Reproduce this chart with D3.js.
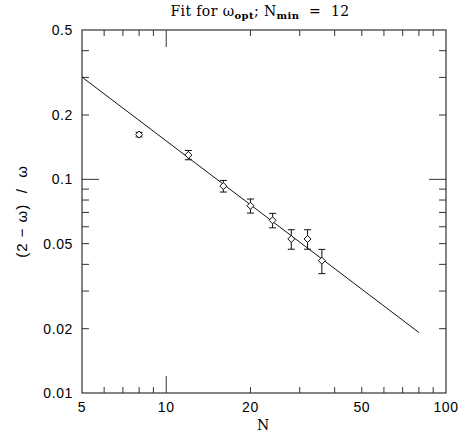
<!DOCTYPE html>
<html>
<head>
<meta charset="utf-8">
<script src="https://cdn.jsdelivr.net/npm/d3@7"></script>
<style>
body { margin: 0; background: #fff; }
svg { display: block; }
text { white-space: pre; }
</style>
</head>
<body>
<div id="chart"></div>
<script>
"use strict";

// measured points
var nValues = [8, 12, 16, 20, 24, 28, 32, 36];
var yValues = [0.162, 0.130, 0.093, 0.0752, 0.0643, 0.0526, 0.0526, 0.0416];
var yErrors = [0.004, 0.0065, 0.0058, 0.0057, 0.0050, 0.0055, 0.0055, 0.0054];

// fitted line end points
var fitN = [5, 80];
var fitY = [0.301, 0.0192];

var xTickLabels = [5, 10, 20, 50, 100];
var yTickLabels = [0.01, 0.02, 0.05, 0.1, 0.2, 0.5];
var xMinorTicks = [6, 7, 8, 9, 20, 30, 40, 50, 60, 70, 80, 90];
var yMinorTicks = [0.02, 0.03, 0.04, 0.05, 0.06, 0.07, 0.08, 0.09, 0.2, 0.3, 0.4];
var xMajorTicks = [10];
var yMajorTicks = [0.1];

var width = 462;
var height = 445;
var margin = {top: 30, right: 16, bottom: 52, left: 82};
var w = width - margin.left - margin.right;
var h = height - margin.top - margin.bottom;

var svg = d3.select("#chart").append("svg")
	.attr("width", width)
	.attr("height", height);

var g = svg.append("g")
	.attr("transform", "translate(" + margin.left + "," + margin.top + ")");

var x = d3.scaleLog().domain([5, 100]).range([0, w]);
var y = d3.scaleLog().domain([0.01, 0.5]).range([h, 0]);

var axisColor = "#333";
var sans = "'Liberation Sans', Arial, sans-serif";
var serif = "'DejaVu Serif', 'Liberation Serif', serif";

function tickAxis(axis, minor, major, small, big) {
	// small ticks and long ticks, mirrored on the opposite side
	var all = minor.map(function(v) { return {v: v, len: small}; })
		.concat(major.map(function(v) { return {v: v, len: big}; }));
	var tg = g.append("g").attr("stroke", axisColor).attr("stroke-width", 1);
	all.forEach(function(t) {
		if (axis === "x") {
			var px = x(t.v);
			tg.append("line").attr("x1", px).attr("x2", px).attr("y1", h).attr("y2", h - t.len);
			tg.append("line").attr("x1", px).attr("x2", px).attr("y1", 0).attr("y2", t.len);
		} else {
			var py = y(t.v);
			tg.append("line").attr("x1", 0).attr("x2", t.len).attr("y1", py).attr("y2", py);
			tg.append("line").attr("x1", w).attr("x2", w - t.len).attr("y1", py).attr("y2", py);
		}
	});
}

tickAxis("x", xMinorTicks, xMajorTicks, 6, 17);
tickAxis("y", yMinorTicks, yMajorTicks, 7, 17);

g.append("rect")
	.attr("width", w)
	.attr("height", h)
	.attr("fill", "none")
	.attr("stroke", axisColor)
	.attr("stroke-width", 1.2);

// tick labels
g.selectAll(".xlab")
	.data(xTickLabels)
	.enter().append("text")
	.attr("x", function(d) { return x(d); })
	.attr("y", h + 19)
	.attr("text-anchor", "middle")
	.attr("font-family", sans)
	.attr("font-size", "14px")
	.attr("letter-spacing", "0.6px")
	.text(function(d) { return d; });

g.selectAll(".ylab")
	.data(yTickLabels)
	.enter().append("text")
	.attr("x", -9)
	.attr("y", function(d) { return y(d); })
	.attr("dy", "0.35em")
	.attr("text-anchor", "end")
	.attr("font-family", sans)
	.attr("font-size", "14px")
	.attr("letter-spacing", "0.6px")
	.text(function(d) { return d; });

// fit line
var line = d3.line()
	.x(function(d) { return x(d[0]); })
	.y(function(d) { return y(d[1]); });

g.append("path")
	.datum(d3.zip(fitN, fitY))
	.attr("d", line)
	.attr("fill", "none")
	.attr("stroke", "#111")
	.attr("stroke-width", 1);

// points with error bars
var pts = g.selectAll(".pt")
	.data(d3.zip(nValues, yValues, yErrors))
	.enter().append("g")
	.attr("class", "pt");

pts.append("line")
	.attr("x1", function(d) { return x(d[0]); })
	.attr("x2", function(d) { return x(d[0]); })
	.attr("y1", function(d) { return y(d[1] + d[2]); })
	.attr("y2", function(d) { return y(d[1] - d[2]); })
	.attr("stroke", "#111");

pts.selectAll(".cap")
	.data(function(d) { return [[d[0], d[1] + d[2]], [d[0], d[1] - d[2]]]; })
	.enter().append("line")
	.attr("x1", function(d) { return x(d[0]) - 3.5; })
	.attr("x2", function(d) { return x(d[0]) + 3.5; })
	.attr("y1", function(d) { return y(d[1]); })
	.attr("y2", function(d) { return y(d[1]); })
	.attr("stroke", "#111");

pts.append("path")
	.attr("d", function(d) {
		var cx = x(d[0]), cy = y(d[1]);
		return "M" + cx + "," + (cy - 3.5) + "L" + (cx + 3.5) + "," + cy +
			"L" + cx + "," + (cy + 3.5) + "L" + (cx - 3.5) + "," + cy + "Z";
	})
	.attr("fill", "#fff")
	.attr("stroke", "#111")
	.attr("stroke-width", 1);

// axis titles
svg.append("text")
	.attr("x", margin.left + x(Math.sqrt(500)) - 1)
	.attr("y", 425)
	.attr("dy", "0.35em")
	.attr("text-anchor", "middle")
	.attr("font-family", serif)
	.attr("font-size", "14px")
	.text("N");

svg.append("text")
	.attr("transform", "translate(27," + (margin.top + h / 2) + ") rotate(-90)")
	.attr("text-anchor", "middle")
	.attr("font-family", sans)
	.attr("font-size", "15px")
	.attr("letter-spacing", "1px")
	.text("(2 \u2212 \u03c9)  /  \u03c9");

var title = svg.append("text")
	.attr("x", 260)
	.attr("y", 16)
	.attr("text-anchor", "middle")
	.attr("font-family", serif)
	.attr("font-size", "14px")
	.attr("letter-spacing", "0.4px");
title.append("tspan").text("Fit for \u03c9");
title.append("tspan").attr("dy", 3).attr("font-size", "10px").attr("font-weight", "bold").text("opt");
title.append("tspan").attr("dy", -3).text("; N");
title.append("tspan").attr("dy", 3).attr("font-size", "10px").attr("font-weight", "bold").text("min");
title.append("tspan").attr("dy", -3).text("  =  12");
</script>
</body>
</html>
